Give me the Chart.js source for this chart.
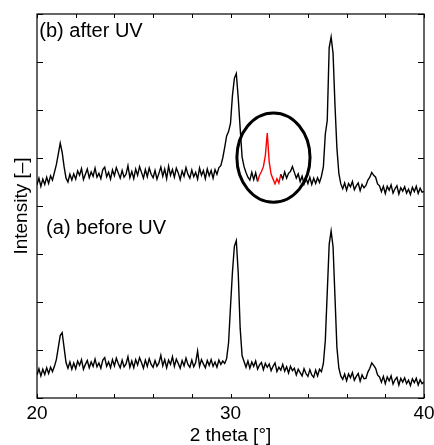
<!DOCTYPE html>
<html>
<head>
<meta charset="utf-8">
<script src="https://cdn.jsdelivr.net/npm/chart.js@4"></script>
<style>
  html, body { margin: 0; padding: 0; background: #fff; }
  canvas { display: block; }
</style>
</head>
<body>
<canvas id="xrd" width="434" height="445"></canvas>
<script>
// --- data (2 theta grid 20.0 .. 40.0, step 0.1) ---
const thetaStart = 20;
const thetaStep = 0.1;

// (b) after UV
const afterUV = [
  4.44, 4.58, 4.41, 4.56, 4.45, 4.60, 4.47, 4.63, 4.54, 4.70,
  4.86, 5.08, 5.31, 5.12, 4.82, 4.58, 4.50, 4.66, 4.54, 4.67,
  4.56, 4.73, 4.64, 4.78, 4.55, 4.66, 4.77, 4.59, 4.71, 4.62,
  4.79, 4.60, 4.68, 4.57, 4.76, 4.81, 4.61, 4.70, 4.56, 4.75,
  4.63, 4.80, 4.69, 4.58, 4.74, 4.60, 4.66, 4.84, 4.59, 4.72,
  4.57, 4.77, 4.64, 4.82, 4.70, 4.58, 4.76, 4.61, 4.79, 4.66,
  4.59, 4.74, 4.56, 4.68, 4.81, 4.62, 4.77, 4.57, 4.83, 4.64,
  4.76, 4.60, 4.79, 4.69, 4.55, 4.73, 4.62, 4.80, 4.66, 4.58,
  4.75, 4.61, 4.70, 4.56, 4.79, 4.64, 4.74, 4.57, 4.77, 4.63,
  4.74, 4.58, 4.76, 4.66, 4.80, 4.84, 5.00, 5.22, 5.46, 5.55,
  5.72, 6.30, 6.66, 6.76, 6.25, 5.62, 5.02, 4.82, 4.70, 4.60,
  4.54, 4.70, 4.55, 4.69, 4.51, 4.64, 4.72, 4.82, 5.05, 5.52,
  4.92, 4.66, 4.56, 4.46, 4.57, 4.48, 4.66, 4.56, 4.71, 4.58,
  4.68, 4.72, 4.82, 4.70, 4.58, 4.67, 4.51, 4.62, 4.46, 4.58,
  4.47, 4.60, 4.45, 4.58, 4.47, 4.59, 4.49, 4.62, 4.82, 5.50,
  5.78, 7.30, 7.52, 7.18, 6.10, 5.20, 4.68, 4.46, 4.36, 4.48,
  4.33, 4.47, 4.40, 4.51, 4.34, 4.42, 4.48, 4.32, 4.45, 4.38,
  4.43, 4.54, 4.60, 4.70, 4.64, 4.60, 4.46, 4.42, 4.30, 4.41,
  4.26, 4.41, 4.33, 4.44, 4.27, 4.36, 4.42, 4.25, 4.38, 4.31,
  4.40, 4.27, 4.35, 4.24, 4.39, 4.30, 4.41, 4.26, 4.37, 4.29,
  4.30
];

// (a) before UV
const beforeUV = [
  0.48, 0.61, 0.46, 0.60, 0.49, 0.63, 0.51, 0.64, 0.55, 0.66,
  0.80, 1.05, 1.30, 1.36, 1.05, 0.74, 0.62, 0.75, 0.60, 0.73,
  0.61, 0.77, 0.68, 0.80, 0.60, 0.70, 0.78, 0.63, 0.75, 0.66,
  0.81, 0.65, 0.73, 0.62, 0.79, 0.84, 0.66, 0.75, 0.63, 0.80,
  0.67, 0.83, 0.72, 0.63, 0.79, 0.65, 0.71, 0.86, 0.64, 0.77,
  0.63, 0.80, 0.69, 0.84, 0.74, 0.62, 0.79, 0.66, 0.82, 0.70,
  0.64, 0.78, 0.66, 0.73, 0.89, 0.67, 0.80, 0.63, 0.79, 0.70,
  0.86, 0.66, 0.81, 0.72, 0.62, 0.78, 0.67, 0.83, 0.70, 0.64,
  0.79, 0.65, 0.74, 0.98, 0.66, 0.80, 0.71, 0.63, 0.78, 0.68,
  0.80, 0.66, 0.75, 0.64, 0.79, 0.70, 0.77, 0.72, 0.82, 1.15,
  1.90, 2.62, 3.16, 3.28, 2.60, 1.45, 0.88, 0.76, 0.64, 0.77,
  0.62, 0.75, 0.66, 0.77, 0.60, 0.69, 0.74, 0.59, 0.72, 0.64,
  0.71, 0.57, 0.66, 0.73, 0.55, 0.64, 0.58, 0.70, 0.56, 0.65,
  0.52, 0.66, 0.57, 0.62, 0.48, 0.60, 0.53, 0.46, 0.61, 0.51,
  0.45, 0.59, 0.48, 0.43, 0.58, 0.46, 0.60, 0.55, 0.72, 1.20,
  2.20, 3.20, 3.48, 3.15, 2.10, 1.05, 0.62, 0.46, 0.39, 0.50,
  0.36, 0.50, 0.42, 0.53, 0.37, 0.45, 0.51, 0.35, 0.48, 0.40,
  0.41, 0.54, 0.62, 0.73, 0.68, 0.62, 0.48, 0.44, 0.33, 0.45,
  0.30, 0.44, 0.36, 0.46, 0.29, 0.38, 0.43, 0.27, 0.41, 0.33,
  0.42, 0.30, 0.37, 0.26, 0.40, 0.32, 0.41, 0.27, 0.38, 0.30,
  0.33
];

const xLabels = [20, 30, 40];
const redRange = [31.4, 32.6];   // part of (b) drawn in red
const panelLabels = [
  { text: '(b) after UV', x: 20.12, y: 7.52 },
  { text: '(a) before UV', x: 20.47, y: 3.41 }
];
const circleMark = { x: 32.22, y: 5.01, rx: 1.89, ry: 0.93 };

// --- helpers ---
const toPoints = (arr) => arr.map((v, i) => ({ x: +(thetaStart + i * thetaStep).toFixed(1), y: v }));
const inRed = (x) => x >= redRange[0] && x <= redRange[1];

Chart.defaults.font.family = '"Liberation Sans", Arial, sans-serif';
Chart.defaults.color = '#000';

// frame, inward ticks, circle, panel texts
const decorations = {
  id: 'decorations',
  afterDatasetsDraw(chart) {
    const { ctx, chartArea: a, scales: { x, y } } = chart;
    ctx.save();

    // circle around the red peak
    ctx.beginPath();
    ctx.lineWidth = 3;
    ctx.strokeStyle = '#000';
    const cx = x.getPixelForValue(circleMark.x);
    const cy = y.getPixelForValue(circleMark.y);
    const rx = x.getPixelForValue(circleMark.x + circleMark.rx) - cx;
    const ry = cy - y.getPixelForValue(circleMark.y + circleMark.ry);
    ctx.ellipse(cx, cy, rx, ry, 0, 0, Math.PI * 2);
    ctx.stroke();

    // frame
    ctx.lineWidth = 1.2;
    ctx.strokeRect(a.left, a.top, a.right - a.left, a.bottom - a.top);

    // ticks pointing inside
    ctx.beginPath();
    x.ticks.forEach(t => {
      const px = Math.round(x.getPixelForValue(t.value)) + 0.5;
      ctx.moveTo(px, a.bottom); ctx.lineTo(px, a.bottom - 4);
      ctx.moveTo(px, a.top); ctx.lineTo(px, a.top + 4);
    });
    y.ticks.forEach(t => {
      const py = Math.round(y.getPixelForValue(t.value)) + 0.5;
      ctx.moveTo(a.left, py); ctx.lineTo(a.left + 6, py);
      ctx.moveTo(a.right, py); ctx.lineTo(a.right - 6, py);
    });
    ctx.lineWidth = 1;
    ctx.stroke();

    // panel labels
    ctx.fillStyle = '#000';
    ctx.font = '20px "Liberation Sans", Arial, sans-serif';
    ctx.textAlign = 'left';
    ctx.textBaseline = 'alphabetic';
    panelLabels.forEach(l => {
      ctx.fillText(l.text, x.getPixelForValue(l.x), y.getPixelForValue(l.y));
    });
    ctx.restore();
  }
};

new Chart(document.getElementById('xrd'), {
  type: 'line',
  data: {
    datasets: [
      {
        label: '(a) before UV',
        data: toPoints(beforeUV),
        borderColor: '#000',
        borderWidth: 1.4,
        pointRadius: 0,
        tension: 0,
        fill: false
      },
      {
        label: '(b) after UV',
        data: toPoints(afterUV),
        borderColor: '#000',
        borderWidth: 1.4,
        pointRadius: 0,
        tension: 0,
        fill: false,
        segment: {
          borderColor: c => (inRed(c.p0.parsed.x) && inRed(c.p1.parsed.x)) ? '#ff0000' : undefined
        }
      }
    ]
  },
  options: {
    responsive: false,
    animation: false,
    layout: { padding: { top: 14, right: 10, left: 0, bottom: 0 } },
    plugins: { legend: { display: false }, tooltip: { enabled: false } },
    scales: {
      x: {
        type: 'linear',
        min: 20,
        max: 40,
        grid: { display: false, drawTicks: false },
        border: { display: false },
        ticks: {
          stepSize: 2,
          autoSkip: false,
          maxRotation: 0,
          padding: 6,
          font: { size: 19, lineHeight: 1 },
          callback: v => xLabels.includes(v) ? String(v) : ''
        },
        title: {
          display: true,
          text: '2 theta [°]',
          font: { size: 19, lineHeight: 1 },
          padding: { top: 0, bottom: 0 }
        },
        afterFit: s => { s.height = 47; s.paddingLeft = 0; s.paddingRight = 0; }
      },
      y: {
        min: 0,
        max: 8,
        grid: { display: false, drawTicks: false },
        border: { display: false },
        ticks: { display: false, stepSize: 1 },
        title: {
          display: true,
          text: 'Intensity [–]',
          font: { size: 19, lineHeight: 1 },
          padding: { top: 12.5, bottom: 0 }
        },
        afterFit: s => { s.width = 37; }
      }
    }
  },
  plugins: [decorations]
});
</script>
</body>
</html>
